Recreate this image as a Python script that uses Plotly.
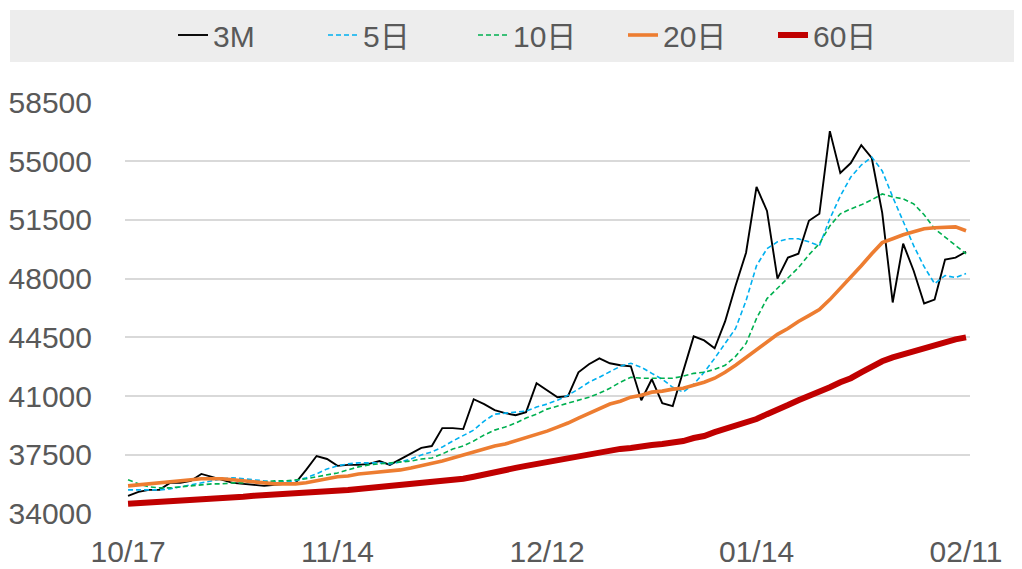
import pandas as pd
import plotly.graph_objects as go

# trading days (LME calendar, UK holidays removed)
holidays = ["2024-12-25", "2024-12-26", "2025-01-01"]
days = [d for d in pd.bdate_range("2024-10-17", "2025-02-11") if d.strftime("%Y-%m-%d") not in holidays]
categories = [d.strftime("%m/%d") for d in days]

tick_labels = ["10/17", "11/14", "12/12", "01/14", "02/11"]

price_3m = [35070, 35300, 35420, 35420, 35840, 35840, 35960, 36370, 36200, 36020,
            35840, 35780, 35720, 35660, 35720, 35780, 35840, 36610, 37440, 37260,
            36850, 36910, 36910, 36970, 37140, 36910, 37260, 37620, 37920, 38030,
            39100, 39100, 39040, 40820, 40530, 40170, 39990, 39870, 40050, 41770,
            41360, 40940, 41000, 42420, 42900, 43250, 42960, 42840, 42780, 40760,
            42010, 40580, 40410, 42480, 44560, 44320, 43850, 45450, 47580, 49540,
            53460, 52030, 48000, 49250, 49480, 51440, 51860, 56780, 54290, 54880,
            55950, 55180, 51910, 46580, 50080, 48470, 46520, 46750, 49130, 49250,
            49600]

ma5 = [35420, 35420, 35420, 35420, 35480, 35600, 35720, 35840, 35960, 36080,
       36140, 36080, 36020, 35960, 35900, 35900, 35960, 36140, 36370, 36670,
       36850, 36970, 37030, 37030, 37030, 36970, 37080, 37260, 37500, 37680,
       37970, 38330, 38630, 38980, 39520, 39930, 39990, 40050, 40110, 40350,
       40530, 40760, 41060, 41420, 41830, 42130, 42480, 42780, 42960, 42720,
       42360, 42010, 41530, 41240, 41710, 42420, 43250, 44140, 45030, 46690,
       48770, 49780, 50190, 50370, 50370, 50190, 49960, 51560, 52920, 54050,
       54760, 55240, 54410, 52860, 51380, 49960, 48710, 47700, 48180, 48060,
       48300]

ma10 = [36020, 35780, 35600, 35540, 35540, 35600, 35660, 35720, 35780, 35780,
        35840, 35840, 35900, 35900, 35960, 35960, 36020, 36080, 36200, 36310,
        36430, 36610, 36790, 36910, 36970, 37030, 37080, 37140, 37260, 37320,
        37560, 37860, 38030, 38330, 38690, 38980, 39160, 39400, 39700, 39930,
        40230, 40410, 40580, 40760, 40940, 41180, 41470, 41830, 42130, 42070,
        42070, 42070, 42070, 42190, 42360, 42420, 42600, 42840, 43370, 44140,
        45630, 46810, 47410, 48060, 48650, 49420, 50080, 51140, 51860, 52150,
        52390, 52690, 53040, 52860, 52750, 52450, 51800, 50970, 50490, 49960,
        49480]

ma20 = [35660, 35720, 35780, 35840, 35900, 35960, 36020, 36080, 36080, 36080,
        36020, 35960, 35900, 35840, 35780, 35780, 35780, 35840, 35960, 36080,
        36200, 36250, 36370, 36430, 36490, 36550, 36610, 36730, 36850, 36970,
        37140, 37320, 37500, 37680, 37860, 38030, 38150, 38330, 38510, 38690,
        38920, 39160, 39400, 39700, 39990, 40290, 40530, 40700, 40940, 41060,
        41240, 41300, 41420, 41470, 41650, 41830, 42070, 42420, 42840, 43310,
        43790, 44260, 44680, 45030, 45450, 45800, 46160, 46750, 47410, 48120,
        48770, 49480, 50140, 50370, 50610, 50790, 50970, 51030, 51080, 51080,
        50850]

ma60 = [34590, 34620, 34650, 34710, 34740, 34770, 34830, 34860, 34890, 34950,
        34980, 35010, 35070, 35100, 35130, 35190, 35250, 35280, 35300, 35360,
        35390, 35420, 35480, 35540, 35570, 35630, 35660, 35720, 35780, 35840,
        35900, 35990, 36080, 36200, 36310, 36490, 36610, 36730, 36850, 36970,
        37080, 37200, 37320, 37440, 37560, 37680, 37800, 37860, 37920, 38030,
        38090, 38150, 38210, 38330, 38510, 38630, 38860, 39040, 39220, 39400,
        39640, 39930, 40170, 40470, 40760, 41000, 41240, 41530, 41830, 42070,
        42420, 42780, 43080, 43310, 43490, 43730, 43910, 44080, 44260, 44380,
        44500]

y_ticks = [34000, 37500, 41000, 44500, 48000, 51500, 55000, 58500]

FONT = "Arial, 'Liberation Sans', 'Noto Sans CJK SC', sans-serif"
GREY = "#595959"

series = [
    ("3M", price_3m, dict(color="#000000", width=1.9)),
    ("5日", ma5, dict(color="#00b0f0", width=1.6, dash="5px,3px")),
    ("10日", ma10, dict(color="#00b050", width=1.6, dash="5px,3px")),
    ("20日", ma20, dict(color="#ed7d31", width=3.6)),
    ("60日", ma60, dict(color="#c00000", width=6)),
]

fig = go.Figure()
for name, vals, line in series:
    fig.add_trace(go.Scatter(x=categories, y=vals, name=name, mode="lines", line=line))

# page body has an 8px margin, so the figure is laid out 8px in from the corner
OFF = 8
W, H = 1022 - OFF, 569 - OFF
L, R, T, B = 125 - OFF, 52, 102 - OFF, 55
pw = W - L - R
ph = H - T - B

fig.add_shape(type="rect", xref="paper", yref="paper",
              x0=(10 - OFF - L) / pw, x1=(W - L) / pw,
              y0=1 + (T - (62 - OFF)) / ph, y1=1 + (T - (10 - OFF)) / ph,
              fillcolor="#ededed", line=dict(width=0), layer="below")

fig.update_layout(
    width=W, height=H,
    margin=dict(l=L, r=R, t=T, b=B, autoexpand=False),
    paper_bgcolor="white", plot_bgcolor="white",
    font=dict(family=FONT, size=30, color=GREY),
    showlegend=True,
    legend=dict(orientation="h", x=(540 - L) / pw, xanchor="center",
                y=1 + (T - (35 - OFF)) / ph, yanchor="middle",
                bgcolor="rgba(0,0,0,0)", font=dict(size=30, color=GREY),
                itemwidth=30, entrywidth=105, entrywidthmode="pixels"),
    xaxis=dict(type="category", range=[-0.29, 80.38], automargin=False,
               tickvals=[categories[i] for i in (0, 20, 40, 60, 80)],
               ticktext=tick_labels, showgrid=False, zeroline=False,
               showline=False, ticks="", tickfont=dict(size=30, color=GREY),
               ticklabelstandoff=17),
    yaxis=dict(range=[33985, 58515], tickvals=y_ticks, automargin=False,
               ticktext=[str(v) for v in y_ticks],
               showgrid=True, gridcolor="#d9d9d9", gridwidth=2,
               zeroline=False, showline=False, ticks="",
               tickfont=dict(size=30, color=GREY), ticklabelstandoff=32),
)

fig.write_html("out.html")
